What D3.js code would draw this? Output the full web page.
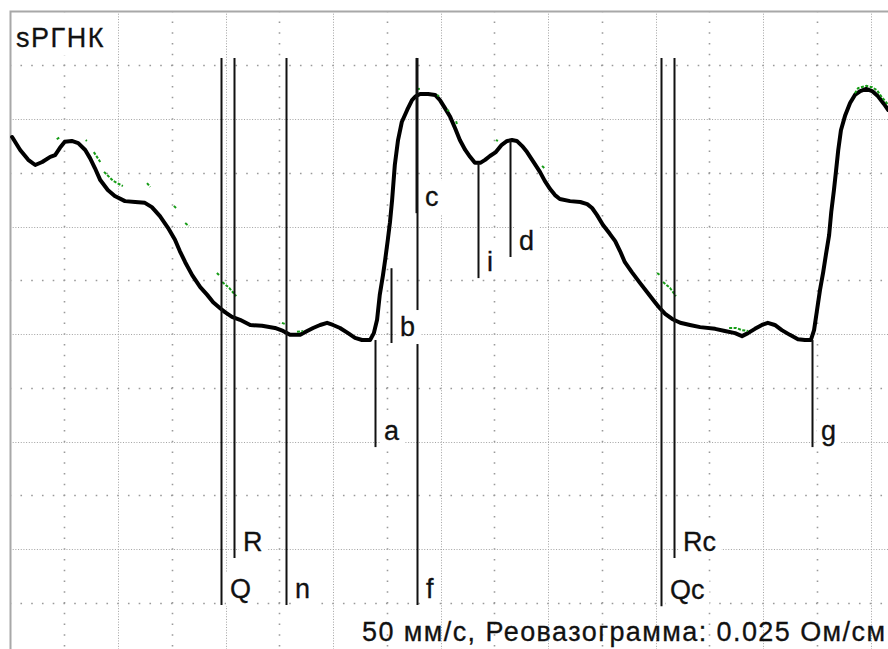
<!DOCTYPE html>
<html>
<head>
<meta charset="utf-8">
<script src="https://cdn.jsdelivr.net/npm/d3@7/dist/d3.min.js"></script>
<style>
  html, body { margin: 0; padding: 0; background: #fff; }
  svg { display: block; }
  text { font-family: "Liberation Sans", Arial, sans-serif; fill: #111; }
</style>
</head>
<body>
<svg id="chart" width="888" height="649"></svg>
<script>
// Rheogram trace: time in ms, amplitude in mΩ (grid cell = 100 ms x 12.5 mΩ)
const traceTime = [3, 18, 33, 46, 59, 74, 83, 92, 101, 114, 126, 139, 148, 157, 167, 181, 194, 213, 232, 250,
  263, 278, 293, 306, 315, 325, 338, 353, 366, 377, 390, 399, 412, 427, 446, 468, 492, 507, 520, 539,
  552, 563, 576, 589, 600, 613, 628, 641, 654, 669, 676, 682, 687, 693, 697, 702, 706, 710, 715, 721,
  728, 738, 747, 754, 762, 777, 790, 799, 808, 818, 827, 836, 846, 855, 864, 874, 883, 892, 903, 914,
  924, 933, 942, 952, 961, 972, 985, 994, 1004, 1013, 1022, 1041, 1060, 1073, 1082, 1091, 1102, 1115, 1125, 1134,
  1143, 1156, 1171, 1186, 1199, 1208, 1218, 1231, 1246, 1264, 1283, 1311, 1329, 1348, 1361, 1372, 1385, 1398, 1409, 1422,
  1435, 1450, 1465, 1478, 1489, 1495, 1500, 1506, 1512, 1517, 1523, 1527, 1532, 1536, 1540, 1545, 1553, 1562, 1571, 1581,
  1592, 1603, 1614, 1625, 1633];
const traceValue = [45.8, 42.8, 40.5, 39.3, 40.0, 41.2, 41.6, 43.3, 44.7, 44.9, 44.4, 42.8, 40.9, 38.6, 35.8, 33.5, 32.1, 30.9, 30.7, 30.5,
  29.5, 27.4, 24.7, 21.9, 19.3, 16.7, 13.7, 10.9, 9.1, 7.4, 6.0, 5.1, 4.0, 3.3, 2.1, 1.9, 1.4, 0.7, -0.2, -0.2,
  0.7, 1.4, 2.1, 2.6, 2.1, 1.4, 0.2, -0.9, -1.4, -1.4, 0.2, 3.3, 9.1, 13.7, 17.2, 21.9, 26.0, 31.2, 39.3, 45.1,
  49.3, 52.1, 54.4, 55.3, 55.8, 55.8, 55.6, 54.4, 52.6, 50.5, 47.9, 45.1, 42.8, 41.2, 39.8, 39.8, 40.5, 41.4, 42.3, 44.0,
  44.9, 45.1, 44.9, 43.7, 42.3, 40.2, 37.7, 35.6, 33.7, 32.3, 31.4, 30.9, 30.7, 30.2, 29.3, 27.7, 25.4, 23.3, 21.6, 19.3,
  16.7, 14.4, 11.9, 9.5, 7.4, 6.0, 4.7, 3.5, 2.6, 2.1, 1.6, 1.2, 0.7, 0.2, -0.5, 0.2, 1.2, 2.1, 2.6, 2.1,
  0.9, -0.2, -1.2, -1.4, -1.4, 0.9, 5.1, 10.2, 14.4, 18.4, 23.0, 28.4, 33.5, 38.1, 42.8, 47.4, 50.9, 53.7, 55.6, 56.5,
  57.0, 56.5, 55.3, 53.5, 52.1];

// Auxiliary (fitted) trace fragments, each a list of [ms, mΩ]
const auxFragments = [
  [[86, 45.3], [92, 45.8]],
  [[140, 45.1], [142, 44.9]],
  [[155, 42.3], [167, 40.0]],
  [[174, 37.7], [191, 35.6], [209, 34.4]],
  [[254, 35.1], [260, 34.2]],
  [[304, 29.8], [308, 29.3]],
  [[325, 25.8], [332, 25.1]],
  [[384, 14.2], [388, 13.7]],
  [[394, 12.1], [407, 10.7], [420, 8.8]],
  [[505, 2.6], [511, 2.3]],
  [[533, 0.5], [544, 0.7]],
  [[756, 57.0], [764, 57.0]],
  [[794, 55.6], [797, 55.3]],
  [[812, 52.1], [816, 51.9]],
  [[829, 49.5], [831, 48.6]],
  [[903, 45.1], [907, 44.9]],
  [[989, 39.1], [993, 38.6]],
  [[1203, 14.2], [1208, 13.7]],
  [[1214, 12.1], [1227, 10.7], [1238, 8.8]],
  [[1337, 1.4], [1350, 1.4], [1361, 0.9], [1372, 0.7]],
  [[1571, 56.0], [1577, 57.2], [1592, 57.7], [1603, 57.4], [1612, 56.7], [1621, 55.1], [1633, 53.3]]
];

// Phase markers: name, time (ms), upper and lower end of the marker line (mΩ)
const markerNames  = ["Q", "R", "n", "a", "b", "c", "f", "i", "d", "Qc", "Rc", "g"];
const markerTimes  = [391.6, 415.8, 512.6, 678.1, 707.9, 754.4, 757.2, 869.8, 929.3, 1210.2, 1234.4, 1491.2];
const markerTops   = [64.2, 64.2, 64.2, -1.4, 15.3, 64.2, 64.2, 39.8, 45.1, 64.2, 64.2, -1.4];
const markerBottoms = [-63.0, -52.1, -63.0, -26.3, -2.1, 28.1, -63.0, 13.0, 17.9, -63.3, -52.1, -26.3];

// Grid: 100 ms per cell horizontally, 12.5 mΩ per cell vertically
const gridTimes = d3.range(100, 1601, 100);
const gridValues = d3.range(62.5, -75, -12.5);

const title = "sPГНК";
const caption = "50 мм/с, Реовазограмма: 0.025 Ом/см";

const W = 888, H = 649;
const svg = d3.select("#chart");

const x = d3.scaleLinear().domain([0, 1600]).range([10.5, 870.5]);
const y = d3.scaleLinear().domain([0, 75]).range([334, 11.5]);
const px = v => Math.round(v) + 0.5;

// grid lines: every second one dense, the others sparse
const gridG = svg.append("g");
const gridStyle = (sel, dense) => sel
  .attr("stroke", dense ? "#a2a2a2" : "#9a9a9a")
  .attr("stroke-width", dense ? 1 : 1.6)
  .attr("stroke-dasharray", dense ? "1,1.69" : "1.6,9.15")
  .attr("stroke-dashoffset", dense ? 0.5 : 0.8);
gridTimes.forEach((t, i) => {
  gridG.append("line")
    .attr("x1", px(x(t))).attr("x2", px(x(t)))
    .attr("y1", y(75)).attr("y2", H)
    .call(gridStyle, i % 2 === 1);
});
gridValues.forEach((v, i) => {
  gridG.append("line")
    .attr("x1", x(0)).attr("x2", W)
    .attr("y1", px(y(v))).attr("y2", px(y(v)))
    .call(gridStyle, i % 2 === 1);
});

// panel frame (top and left edges)
svg.append("path")
  .attr("d", `M${x(0)},${H} L${x(0)},${y(75)} L${W},${y(75)}`)
  .attr("fill", "none")
  .attr("stroke", "#a8a8a8")
  .attr("stroke-width", 2);

// main trace
const trace = traceTime.map((t, i) => [t, traceValue[i]]);
const line = d3.line().x(d => x(d[0])).y(d => y(d[1]));
svg.append("path")
  .datum(trace)
  .attr("d", line)
  .attr("fill", "none")
  .attr("stroke", "#000")
  .attr("stroke-width", 4)
  .attr("stroke-linejoin", "round")
  .attr("stroke-linecap", "round");

// auxiliary fragments
svg.append("g").selectAll("path")
  .data(auxFragments)
  .join("path")
  .attr("d", line)
  .attr("fill", "none")
  .attr("stroke", "#169c16")
  .attr("stroke-width", 2)
  .attr("stroke-dasharray", "3,1.5");

// marker lines
const markers = markerNames.map((n, i) => ({
  name: n, t: markerTimes[i], top: markerTops[i], bottom: markerBottoms[i]
}));
svg.append("g").selectAll("line")
  .data(markers)
  .join("line")
  .attr("x1", d => Math.round(x(d.t)) + 0.5)
  .attr("x2", d => Math.round(x(d.t)) + 0.5)
  .attr("y1", d => y(d.top))
  .attr("y2", d => y(d.bottom))
  .attr("stroke", "#111")
  .attr("stroke-width", 2);

// labels with opaque backgrounds
function boxedText(parent, tx, ty, str, size, extra) {
  const g = parent.append("g");
  const rect = g.append("rect").attr("fill", "#fff");
  const txt = g.append("text")
    .attr("x", tx).attr("y", ty)
    .attr("font-size", size)
    .attr("stroke", "#111")
    .attr("stroke-width", 0.3)
    .text(str);
  if (extra) extra(txt);
  const bb = txt.node().getBBox();
  rect.attr("x", bb.x - 4).attr("y", bb.y - 2)
    .attr("width", bb.width + 9).attr("height", bb.height + 4);
  return txt;
}

const labelG = svg.append("g");
markers.forEach(d => {
  boxedText(labelG, Math.round(x(d.t)) + 9, y(d.bottom) - 7, d.name, 27);
});

boxedText(svg, 16, 47, title, 27, t => t.attr("letter-spacing", 1.5));

svg.append("text")
  .attr("x", 362).attr("y", 641)
  .attr("font-size", 27)
  .attr("stroke", "#111")
  .attr("stroke-width", 0.3)
  .attr("textLength", 523)
  .attr("lengthAdjust", "spacing")
  .text(caption);
</script>
</body>
</html>
